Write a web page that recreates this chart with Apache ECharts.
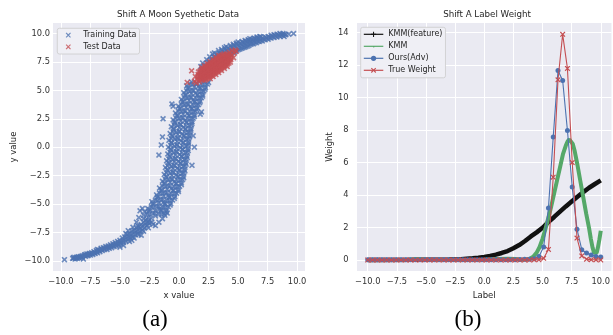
<!DOCTYPE html>
<html>
<head>
<meta charset="utf-8">
<script src="https://cdn.jsdelivr.net/npm/echarts@6/dist/echarts.min.js"></script>
<style>
  html, body { margin: 0; padding: 0; background: #fff; }
  #main { width: 613px; height: 335px; }
</style>
</head>
<body>
<div id="main"></div>
<script>
// ---- left panel: moon data ----
const trainLower = [
  [-9.7,-9.9],[-9.0,-9.8],[-8.9,-9.7],[-8.8,-9.85],[-8.7,-9.7],[-8.6,-9.8],[-8.5,-9.65],[-8.4,-9.75],
  [-8.3,-9.6],[-8.2,-9.7],[-8.0,-9.5],[-7.9,-9.6],[-7.8,-9.4],[-7.7,-9.55],[-7.6,-9.35],[-7.5,-9.5],
  [-7.4,-9.3],[-7.3,-9.45],[-7.2,-9.2],[-7.1,-9.35],[-7.0,-9.1],[-6.9,-9.3],[-6.8,-9.05],[-6.7,-9.2],
  [-6.6,-8.9],[-6.5,-9.1],[-6.4,-8.85],[-6.3,-9.0],[-6.2,-8.75],[-6.1,-9.0],[-6.0,-8.7],[-5.9,-8.9],
  [-5.8,-8.6],[-5.7,-8.85],[-5.6,-8.5],[-5.5,-8.75],[-5.4,-8.4],[-5.3,-8.7],[-5.2,-8.3],[-5.1,-8.6],
  [-5.0,-8.2],[-4.9,-8.5],[-4.8,-8.0],[-4.7,-8.4],[-4.6,-7.9],[-4.5,-8.3],[-4.4,-7.7],[-4.3,-8.1],
  [-4.2,-7.6],[-4.1,-8.0],[-4.0,-7.4],[-3.9,-7.9],[-3.8,-7.3],[-3.7,-7.7],[-3.6,-7.1],[-3.5,-7.6],
  [-3.4,-7.0],[-3.3,-7.4],[-3.2,-6.8],[-3.1,-7.3],[-3.0,-6.6],[-2.9,-7.1],[-2.8,-6.4],[-2.7,-6.9],
  [-2.6,-6.2],[-2.5,-6.7],[-5.0,-8.8],[-4.5,-7.6],[-4.0,-8.2],[-3.5,-6.9],[-3.3,-5.6],[-3.1,-5.4],
  [-2.9,-5.7],[-3.4,-6.2],[-3.0,-6.3],[-2.6,-6.6],[-3.6,-6.6],[-2.2,-6.8],[-8.1,-9.85],[-6.9,-9.0],
  [-8.95,-9.75],[-8.75,-9.75],[-8.55,-9.7],[-8.35,-9.65],[-8.15,-9.55],[-7.95,-9.45],[-7.75,-9.5],
  [-7.55,-9.4],[-7.35,-9.35],[-7.15,-9.3],[-6.95,-9.2],[-6.75,-9.1],[-6.55,-9.0],[-6.35,-8.95],
  [-6.15,-8.85],[-5.95,-8.8],[-5.75,-8.7],[-5.55,-8.65],[-5.35,-8.55],[-5.15,-8.45],[-4.95,-8.35],
  [-4.75,-8.2],[-4.55,-8.1],[-4.35,-7.9],[-4.15,-7.8],[-3.95,-7.65],[-3.75,-7.5],[-3.55,-7.35],
  [-3.35,-7.2],[-3.15,-7.0],[-2.95,-6.85],[-2.75,-6.65],[-2.55,-6.45],[-2.35,-6.25],
  [-4.2,-8.3],[-3.8,-8.0],[-3.4,-7.7],[-3.0,-7.4],[-2.6,-7.1],[-2.3,-6.6],[-2.0,-6.9],[-1.7,-6.6],
  [-1.4,-6.3],[-1.2,-6.0],[-1.0,-5.8],[-4.3,-7.35],[-3.9,-7.05],[-4.7,-8.65],[-3.2,-7.75]
];
const trainColumn = [
  [-3.0,-6.0],[-2.5,-5.9],[-2.0,-6.05],[-1.5,-5.9],[-2.55,-5.65],[-2.05,-5.8],[-1.55,-5.6],[-1.1,-5.7],
  [-2.65,-5.4],[-2.15,-5.3],[-1.65,-5.45],[-1.15,-5.3],[-2.2,-5.05],[-1.7,-5.2],[-1.2,-5.0],[-0.75,-5.1],
  [-2.3,-4.8],[-1.8,-4.7],[-1.3,-4.85],[-0.8,-4.7],[-1.85,-4.45],[-1.35,-4.6],[-0.85,-4.4],[-0.4,-4.5],
  [-1.9,-4.2],[-1.4,-4.1],[-0.9,-4.25],[-0.4,-4.1],[-1.5,-3.85],[-1.0,-4.0],[-0.5,-3.8],[-0.05,-3.9],
  [-1.65,-3.6],[-1.15,-3.5],[-0.65,-3.65],[-0.15,-3.5],[-1.25,-3.25],[-0.75,-3.4],[-0.25,-3.2],[0.2,-3.3],
  [-1.4,-3.0],[-0.9,-2.9],[-0.4,-3.05],[0.1,-2.9],[-1.05,-2.65],[-0.55,-2.8],[-0.05,-2.6],[0.4,-2.7],
  [-1.25,-2.4],[-0.75,-2.3],[-0.25,-2.45],[0.25,-2.3],[-0.95,-2.05],[-0.45,-2.2],[0.05,-2.0],[0.5,-2.1],
  [-1.15,-1.8],[-0.65,-1.7],[-0.15,-1.85],[0.35,-1.7],[-0.85,-1.45],[-0.35,-1.6],[0.15,-1.4],[0.6,-1.5],
  [-1.05,-1.2],[-0.55,-1.1],[-0.05,-1.25],[0.45,-1.1],[-0.75,-0.85],[-0.25,-1.0],[0.25,-0.8],[0.7,-0.9],
  [-0.95,-0.6],[-0.45,-0.5],[0.05,-0.65],[0.55,-0.5],[-0.67,-0.25],[-0.17,-0.4],[0.33,-0.2],[0.78,-0.3],
  [-0.9,0.0],[-0.4,0.1],[0.1,-0.05],[0.6,0.1],[-0.63,0.35],[-0.13,0.2],[0.37,0.4],[0.82,0.3],
  [-0.85,0.6],[-0.35,0.7],[0.15,0.55],[0.65,0.7],[-0.55,0.95],[-0.05,0.8],[0.45,1.0],[0.9,0.9],
  [-0.75,1.2],[-0.25,1.3],[0.25,1.15],[0.75,1.3],[-0.45,1.55],[0.05,1.4],[0.55,1.6],[1.0,1.5],
  [-0.65,1.8],[-0.15,1.9],[0.35,1.75],[0.85,1.9],[-0.35,2.15],[0.15,2.0],[0.65,2.2],[1.1,2.1],
  [-0.5,2.4],[0.0,2.5],[0.5,2.35],[1.0,2.5],[-0.15,2.75],[0.35,2.6],[0.85,2.8],[1.3,2.7],
  [-0.3,3.0],[0.2,3.1],[0.7,2.95],[1.2,3.1],[0.05,3.35],[0.55,3.2],[1.05,3.4],[1.5,3.3],
  [-0.05,3.6],[0.45,3.7],[0.95,3.55],[1.45,3.7],[0.3,3.95],[0.8,3.8],[1.3,4.0],[1.75,3.9],
  [0.2,4.2],[0.7,4.3],[1.2,4.15],[1.7,4.3],[0.55,4.55],[1.05,4.4],[1.55,4.6],[2.0,4.5],
  [0.4,4.8],[0.9,4.9],[1.4,4.75],[1.9,4.9],[0.75,5.15],[1.25,5.0],[1.75,5.2],[2.2,5.1],
  [0.65,5.4],[1.15,5.5],[1.65,5.35],[2.15,5.5],[1.05,5.75],[1.55,5.6],[2.05,5.8],[2.5,5.7]
];
const trainColumnFill = [
  [-2.7,-5.85],[-2.2,-5.8],[-1.7,-5.9],[-1.25,-5.85],[-2.5,-5.5],[-2.0,-5.6],[-1.5,-5.5],[-1.05,-5.55],
  [-2.35,-5.25],[-1.85,-5.2],[-1.35,-5.3],[-0.9,-5.25],[-2.2,-4.95],[-1.7,-4.9],[-1.2,-5.0],[-0.7,-4.95],
  [-2.0,-4.65],[-1.5,-4.6],[-1.0,-4.7],[-0.55,-4.65],[-1.8,-4.35],[-1.3,-4.3],[-0.8,-4.4],[-0.35,-4.35],
  [-1.65,-4.05],[-1.15,-4.0],[-0.65,-4.1],[-0.2,-4.05],[-1.5,-3.75],[-1.0,-3.7],[-0.5,-3.8],[-0.05,-3.75],
  [-1.4,-3.45],[-0.9,-3.4],[-0.4,-3.5],[0.05,-3.45],[-1.25,-3.15],[-0.75,-3.1],[-0.25,-3.2],[0.2,-3.15],
  [-1.15,-2.85],[-0.65,-2.8],[-0.15,-2.9],[0.3,-2.85],[-1.1,-2.55],[-0.6,-2.5],[-0.1,-2.6],[0.35,-2.55],
  [-1.05,-2.25],[-0.55,-2.2],[-0.05,-2.3],[0.4,-2.25],[-1.0,-1.95],[-0.5,-1.9],[0.0,-2.0],[0.45,-1.95],
  [-0.95,-1.65],[-0.45,-1.6],[0.05,-1.7],[0.5,-1.65],[-0.9,-1.35],[-0.4,-1.3],[0.1,-1.4],[0.55,-1.35],
  [-0.85,-1.05],[-0.35,-1.0],[0.15,-1.1],[0.6,-1.05],[-0.8,-0.75],[-0.3,-0.7],[0.2,-0.8],[0.65,-0.75],
  [-0.75,-0.45],[-0.25,-0.4],[0.25,-0.5],[0.7,-0.45],[-0.7,-0.15],[-0.2,-0.1],[0.3,-0.2],[0.75,-0.15],
  [-0.7,0.15],[-0.2,0.2],[0.3,0.1],[0.75,0.15],[-0.65,0.45],[-0.15,0.5],[0.35,0.4],[0.8,0.45],
  [-0.65,0.75],[-0.15,0.8],[0.35,0.7],[0.8,0.75],[-0.6,1.05],[-0.1,1.1],[0.4,1.0],[0.85,1.05],
  [-0.5,1.35],[0.0,1.4],[0.5,1.3],[0.95,1.35],[-0.45,1.65],[0.05,1.7],[0.55,1.6],[1.0,1.65],
  [-0.4,1.95],[0.1,2.0],[0.6,1.9],[1.05,1.95],[-0.35,2.25],[0.15,2.3],[0.65,2.2],[1.1,2.25],
  [-0.25,2.55],[0.25,2.6],[0.75,2.5],[1.2,2.55],[-0.15,2.85],[0.35,2.9],[0.85,2.8],[1.3,2.85],
  [-0.05,3.15],[0.45,3.2],[0.95,3.1],[1.4,3.15],[0.1,3.45],[0.6,3.5],[1.1,3.4],[1.55,3.45],
  [0.2,3.75],[0.7,3.8],[1.2,3.7],[1.65,3.75],[0.35,4.05],[0.85,4.1],[1.35,4.0],[1.8,4.05],
  [0.45,4.35],[0.95,4.4],[1.45,4.3],[1.9,4.35],[0.55,4.65],[1.05,4.7],[1.55,4.6],[2.0,4.65],
  [0.65,4.95],[1.15,5.0],[1.65,4.9],[2.1,4.95],[0.8,5.25],[1.3,5.3],[1.8,5.2],[2.25,5.25],
  [0.95,5.55],[1.45,5.6],[1.95,5.5],[2.4,5.55]
];
const trainUpper = [
  [1.8,6.0],[1.8,6.6],[1.85,7.1],[2.05,6.4],[2.05,6.9],[2.0,7.4],[2.3,6.7],[2.3,7.2],[2.35,7.7],
  [2.55,7.0],[2.55,7.5],[2.6,7.95],[2.8,7.2],[2.8,7.7],[2.85,8.2],[3.05,7.4],[3.05,7.9],[3.0,8.3],
  [3.3,7.6],[3.3,8.05],[3.35,8.5],[3.55,7.7],[3.55,8.2],[3.6,8.6],[3.8,7.9],[3.8,8.35],[3.85,8.75],
  [4.05,8.05],[4.05,8.5],[4.0,8.85],[4.3,8.2],[4.3,8.6],[4.35,8.95],[4.55,8.35],[4.55,8.75],[4.6,9.05],
  [4.8,8.45],[4.8,8.85],[4.85,9.15],[5.05,8.6],[5.05,8.95],[5.0,9.25],[5.3,8.7],[5.3,9.05],[5.35,9.3],
  [5.55,8.8],[5.55,9.15],[5.6,9.4],[5.8,8.9],[5.8,9.25],[5.85,9.45],[6.05,9.05],[6.05,9.35],[6.0,9.55],
  [6.3,9.1],[6.3,9.4],[6.35,9.6],[6.55,9.2],[6.55,9.5],[6.6,9.7],[6.8,9.3],[6.8,9.55],[6.85,9.75],
  [7.05,9.35],[7.05,9.6],[7.3,9.45],[7.3,9.7],[7.55,9.5],[7.55,9.75],[7.8,9.6],[7.8,9.85],
  [8.05,9.65],[8.05,9.9],[8.3,9.7],[8.3,9.95],[8.55,9.75],[8.55,10.0],[8.8,9.85],[8.8,10.0],
  [9.05,9.9],[9.7,10.0],
  [1.92,6.3],[1.92,6.85],[2.17,6.55],[2.17,7.15],[2.42,6.85],[2.42,7.45],[2.67,7.1],[2.67,7.7],
  [2.92,7.3],[2.92,7.95],[3.17,7.5],[3.17,8.15],[3.42,7.65],[3.42,8.3],[3.67,7.8],[3.67,8.45],
  [3.92,8.0],[3.92,8.6],[4.17,8.15],[4.17,8.7],[4.42,8.3],[4.42,8.8],[4.67,8.4],[4.67,8.95],
  [4.92,8.55],[4.92,9.05],[5.17,8.65],[5.17,9.15],[5.42,8.75],[5.42,9.2],[5.67,8.85],[5.67,9.3],
  [5.92,8.95],[5.92,9.4],[6.17,9.1],[6.17,9.5],[6.42,9.2],[6.42,9.55],[6.67,9.3],[6.67,9.6],
  [6.92,9.4],[6.92,9.7],[7.17,9.5],[7.42,9.6],[7.67,9.65],[7.92,9.75],[8.17,9.8],[8.42,9.85],
  [8.67,9.9],[8.92,9.95],[8.9,9.75],[9.3,9.95]
];
const trainStray = [
  [-1.35,2.5],[-1.4,0.9],[1.3,0.0],[-1.7,-0.7],[1.1,-1.6],[1.8,2.9],[-0.5,3.6],[-1.5,0.2],
  [1.2,1.0],[1.9,3.1],[-0.6,3.8]
];
const testCore = [
  [1.73,5.74],[1.56,5.98],[1.38,6.22],[1.98,5.92],[1.80,6.16],[1.62,6.40],[2.22,6.09],[2.04,6.34],
  [1.86,6.58],[2.64,6.03],[2.46,6.27],[2.28,6.51],[2.10,6.76],[1.92,7.0],[2.88,6.21],[2.70,6.45],
  [2.52,6.69],[2.34,6.93],[2.16,7.17],[3.12,6.39],[2.94,6.63],[2.76,6.87],[2.58,7.11],[2.40,7.35],
  [3.36,6.57],[3.18,6.81],[3.0,7.05],[2.82,7.29],[2.64,7.53],[3.60,6.75],[3.42,6.99],[3.24,7.23],
  [3.06,7.47],[2.88,7.71],[3.84,6.93],[3.66,7.17],[3.48,7.41],[3.30,7.65],[3.12,7.89],[4.08,7.10],
  [3.90,7.35],[3.72,7.59],[3.54,7.83],[3.37,8.07],[4.14,7.52],[3.96,7.77],[3.79,8.01],[4.38,7.70],
  [4.21,7.94],[4.03,8.19],[4.62,7.88],[4.45,8.12],[4.27,8.36],
  [1.76,5.95],[1.59,6.19],[2.18,5.88],[2.01,6.13],[1.83,6.37],[1.65,6.61],[2.43,6.06],[2.25,6.30],
  [2.07,6.54],[1.89,6.79],[2.67,6.24],[2.49,6.48],[2.31,6.72],[2.13,6.96],[2.91,6.42],[2.73,6.66],
  [2.55,6.90],[2.37,7.14],[3.15,6.60],[2.97,6.84],[2.79,7.08],[2.61,7.32],[3.39,6.78],[3.21,7.02],
  [3.03,7.26],[2.85,7.50],[3.63,6.96],[3.45,7.20],[3.27,7.44],[3.09,7.68],[3.87,7.14],[3.69,7.38],
  [3.51,7.62],[3.33,7.86],[4.11,7.32],[3.93,7.56],[3.75,7.80],[3.58,8.04],[4.35,7.49],[4.17,7.74],
  [4.00,7.98],[3.82,8.22],[4.41,7.91],[4.24,8.15]
];
const testFill = [
  [1.89,6.04],[1.71,6.28],[2.13,6.22],[1.95,6.46],[2.30,5.97],[1.77,6.70],
  [2.37,6.39],[2.19,6.63],[2.55,6.15],[2.01,6.88],[2.61,6.57],[2.43,6.81],[2.79,6.33],[2.25,7.05],
  [2.85,6.75],[2.67,6.99],[3.03,6.51],[2.49,7.23],[3.09,6.93],[2.91,7.17],[3.27,6.69],[2.73,7.41],
  [3.33,7.11],[3.15,7.35],[3.51,6.87],[2.97,7.59],[3.57,7.29],[3.39,7.53],[3.75,7.05],[3.21,7.77],
  [3.81,7.47],[3.63,7.71],[3.99,7.23],[3.45,7.95],[4.05,7.65],[3.88,7.89],[4.23,7.40],[3.70,8.13],
  [4.29,7.82],[4.12,8.06]
];
const testStray = [
  [1.31,5.80],[4.69,8.30],[4.85,8.45],[0.7,5.7],[1.07,6.72],[4.75,8.55],[4.5,8.5],[1.45,5.65]
];
const moonTicks = [-10, -7.5, -5, -2.5, 0, 2.5, 5, 7.5, 10];

// ---- right panel: label weights ----
const labelX = [
  -10, -9.59, -9.18, -8.78, -8.37, -7.96, -7.55, -7.14, -6.73, -6.33,
  -5.92, -5.51, -5.10, -4.69, -4.29, -3.88, -3.47, -3.06, -2.65, -2.24,
  -1.84, -1.43, -1.02, -0.61, -0.20, 0.20, 0.61, 1.02, 1.43, 1.84,
  2.24, 2.65, 3.06, 3.47, 3.88, 4.29, 4.69, 5.10, 5.51, 5.92,
  6.33, 6.73, 7.14, 7.55, 7.96, 8.37, 8.78, 9.18, 9.59, 10
];
const oursAdv = [
  0.02, 0.02, 0.02, 0.02, 0.02, 0.02, 0.02, 0.02, 0.02, 0.02,
  0.02, 0.02, 0.02, 0.02, 0.02, 0.02, 0.02, 0.02, 0.02, 0.02,
  0.02, 0.02, 0.02, 0.02, 0.02, 0.02, 0.02, 0.02, 0.02, 0.02,
  0.02, 0.02, 0.03, 0.04, 0.05, 0.08, 0.22, 0.8, 3.2, 7.57,
  11.67, 11.06, 7.98, 4.49, 1.9, 0.63, 0.43, 0.3, 0.22, 0.18
];
const trueWeight = [
  0, 0, 0, 0, 0, 0, 0, 0, 0, 0,
  0, 0, 0, 0, 0, 0, 0, 0, 0, 0,
  0, 0, 0, 0, 0, 0, 0, 0, 0, 0,
  0, 0, 0, 0, 0, 0.01, 0.02, 0.1, 0.65, 5.1,
  11.1, 13.9, 11.8, 6.0, 1.35, 0.25, 0.05, 0.02, 0.01, 0
];
const kmmX = [
  -10, -8, -6.5, -5.8, -5, -4, -2, 0, 1, 2, 2.7, 3.2, 3.6, 3.9, 4.2, 4.5, 4.75, 5.0, 5.25, 5.5,
  5.75, 6.0, 6.25, 6.5, 6.75, 7.0, 7.15, 7.3, 7.45, 7.6, 7.75, 8.0, 8.25, 8.5, 8.75, 9.0, 9.15,
  9.3, 9.42, 9.55, 9.65, 9.75, 9.88, 10
];
const kmmY = [
  0, 0, 0.02, 0.06, 0.02, 0, 0, 0.02, 0.06, 0.08, 0.06, 0.02, 0.03, 0.08, 0.2, 0.45, 0.8, 1.3, 1.9, 2.6,
  3.3, 4.1, 4.9, 5.7, 6.5, 7.05, 7.3, 7.43, 7.38, 7.15, 6.75, 5.85, 4.85, 3.85, 2.85, 1.95, 1.3,
  0.75, 0.45, 0.35, 0.45, 0.75, 1.25, 1.8
];
const kmmFeatX = [-10, -6, -3, -2, -1, -0.5, 0, 0.5, 1, 1.5, 2, 2.5, 3, 3.5, 4, 4.5, 5, 5.5, 6, 6.5, 7, 7.5, 8, 8.5, 9, 9.5, 10];
const kmmFeatY = [0, 0.01, 0.03, 0.05, 0.1, 0.14, 0.19, 0.25, 0.33, 0.43, 0.55, 0.72, 0.92, 1.17, 1.45, 1.7, 1.98, 2.33, 2.65, 2.98, 3.3, 3.6, 3.9, 4.18, 4.45, 4.68, 4.9];
const labelTicks = [-10, -7.5, -5, -2.5, 0, 2.5, 5, 7.5, 10];
const weightTicks = [0, 2, 4, 6, 8, 10, 12, 14];

const BLUE = '#4C72B0', RED = '#C44E52', GREEN = '#55A868', BLACK = '#111111';
const INK = '#262626';
const FONT = 'DejaVu Sans';

// seaborn-ish markers
const X_BOLD = 'path://M0,1L1,0L2.6,1.6L4.2,0L5.2,1L3.6,2.6L5.2,4.2L4.2,5.2L2.6,3.6L1,5.2L0,4.2L1.6,2.6Z';
const X_MARK = 'path://M0,0.78L0.78,0L2.6,1.82L4.42,0L5.2,0.78L3.38,2.6L5.2,4.42L4.42,5.2L2.6,3.38L0.78,5.2L0,4.42L1.82,2.6Z';
const X_LEGEND = 'path://M0,0M20,7M7.4,1.68L8.18,0.9L10,2.72L11.82,0.9L12.6,1.68L10.78,3.5L12.6,5.32L11.82,6.1L10,4.28L8.18,6.1L7.4,5.32L9.22,3.5Z';
const PLUS_MARK = 'path://M2,0H3V2H5V3H3V5H2V3H0V2H2Z';
const DOT_MARK = 'path://M0,0M10,10M6.4,5A1.4,1.4,0,1,1,6.39,4.99Z';

const fmtDec = v => (v < 0 ? '\u2212' : '') + Math.abs(v).toFixed(1);
const fmtInt = v => String(v);
const zip = (xs, ys) => xs.map((x, i) => [x, ys[i]]);

function valueAxis(gridIndex, min, max, ticks, fmt, name, nameGap, margin) {
  return {
    type: 'value', gridIndex, min, max,
    name, nameLocation: 'middle', nameGap,
    nameTextStyle: { fontFamily: FONT, fontSize: 8.5, color: INK },
    axisLine: { show: false },
    axisTick: { show: false, customValues: ticks },
    axisLabel: { customValues: ticks, formatter: fmt, margin, fontFamily: FONT, fontSize: 8.3, color: '#333' },
    splitLine: { show: true, lineStyle: { color: '#ffffff', width: 1 } }
  };
}

const titleStyle = { fontFamily: FONT, fontSize: 8.7, fontWeight: 'normal', color: INK };
const capStyle = { fontFamily: 'Liberation Serif', fontSize: 23, fontWeight: 'normal', color: '#000' };
const legendBox = {
  orient: 'vertical', itemGap: 0,
  backgroundColor: '#EFEFF5', borderColor: '#CCCCCC', borderWidth: 0.8, borderRadius: 2,
  selectedMode: false
};

const chart = echarts.init(document.getElementById('main'));
chart.setOption({
  animation: false,
  title: [
    { text: 'Shift A Moon Syethetic Data', left: 178, top: 10, textAlign: 'center', padding: 0, textStyle: titleStyle },
    { text: 'Shift A Label Weight', left: 487, top: 10, textAlign: 'center', padding: 0, textStyle: titleStyle },
    { text: '(a)', left: 155, top: 308, textAlign: 'center', padding: 0, textStyle: capStyle },
    { text: '(b)', left: 468, top: 308, textAlign: 'center', padding: 0, textStyle: capStyle }
  ],
  grid: [
    { left: 53, top: 23, width: 252, height: 248, show: true, backgroundColor: '#EAEAF2', borderWidth: 0 },
    { left: 357, top: 23, width: 260, height: 248, show: true, backgroundColor: '#EAEAF2', borderWidth: 0 }
  ],
  xAxis: [
    valueAxis(0, -10.67, 10.67, moonTicks, fmtDec, 'x value', 19, 7),
    valueAxis(1, -10.92, 10.92, labelTicks, fmtDec, 'Label', 19, 7)
  ],
  yAxis: [
    valueAxis(0, -10.9, 10.93, moonTicks, fmtDec, 'y value', 35, 3),
    valueAxis(1, -0.68, 14.6, weightTicks, fmtInt, 'Weight', 22, 8.5)
  ],
  legend: [
    Object.assign({}, legendBox, {
      data: [{ name: 'Training Data', icon: X_LEGEND }, { name: 'Test Data', icon: X_LEGEND }],
      left: 57.3, top: 28.3, itemWidth: 20, itemHeight: 7, padding: [1, 3, 1.3, 1],
      textStyle: { fontFamily: FONT, fontSize: 8, color: INK, lineHeight: 11.7 }
    }),
    Object.assign({}, legendBox, {
      data: ['KMM(feature)', 'KMM', 'Ours(Adv)', 'True Weight'],
      left: 360.7, top: 27.3, itemWidth: 19.5, itemHeight: 6.5, padding: [1, 3, 1.5, 2.5],
      lineStyle: { width: 1.2 },
      textStyle: { fontFamily: FONT, fontSize: 8, color: INK, lineHeight: 12 }
    })
  ],
  series: [
    {
      name: 'Training Data', type: 'scatter', xAxisIndex: 0, yAxisIndex: 0,
      data: trainLower.concat(trainColumn, trainColumnFill, trainUpper, trainStray),
      symbol: X_BOLD, symbolSize: 6, itemStyle: { color: BLUE }, z: 2
    },
    {
      name: 'Test Data', type: 'scatter', xAxisIndex: 0, yAxisIndex: 0,
      data: testCore.concat(testFill, testStray),
      symbol: X_BOLD, symbolSize: 6, itemStyle: { color: RED }, z: 3
    },
    {
      name: 'KMM(feature)', type: 'line', xAxisIndex: 1, yAxisIndex: 1,
      data: zip(kmmFeatX, kmmFeatY), symbol: PLUS_MARK, showSymbol: false,
      lineStyle: { width: 4.5, color: BLACK }, itemStyle: { color: BLACK }, z: 2
    },
    {
      name: 'KMM', type: 'line', xAxisIndex: 1, yAxisIndex: 1,
      data: zip(kmmX, kmmY), symbol: DOT_MARK, showSymbol: false,
      lineStyle: { width: 4, color: GREEN }, itemStyle: { color: GREEN }, z: 3
    },
    {
      name: 'Ours(Adv)', type: 'line', xAxisIndex: 1, yAxisIndex: 1,
      data: zip(labelX, oursAdv), symbol: 'circle', symbolSize: 5, showAllSymbol: true,
      lineStyle: { width: 1.1, color: BLUE }, itemStyle: { color: BLUE }, z: 4
    },
    {
      name: 'True Weight', type: 'line', xAxisIndex: 1, yAxisIndex: 1,
      data: zip(labelX, trueWeight), symbol: X_MARK, symbolSize: 5.5, showAllSymbol: true,
      lineStyle: { width: 1.1, color: RED }, itemStyle: { color: RED }, z: 5
    }
  ]
});
</script>
</body>
</html>
